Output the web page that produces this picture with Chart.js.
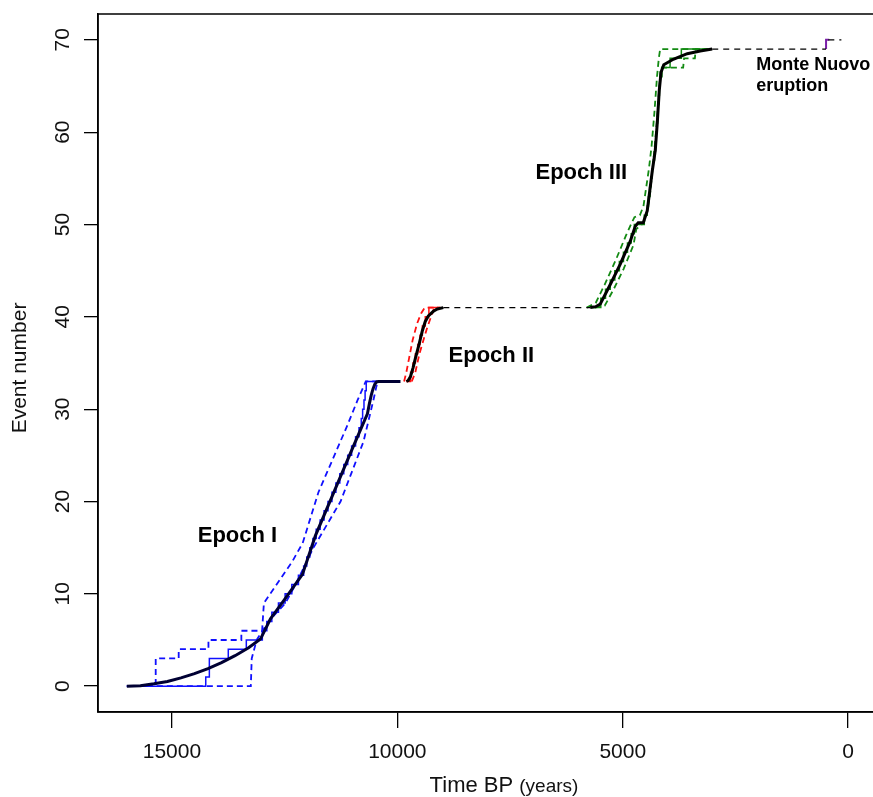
<!DOCTYPE html>
<html>
<head>
<meta charset="utf-8">
<script src="https://cdn.jsdelivr.net/npm/chart.js@4/dist/chart.umd.min.js"></script>
<style>
    html, body { margin: 0; padding: 0; overflow: hidden; background: #fff; }
    #wrap { position: absolute; left: 0; top: 0; width: 880px; height: 797px; }
</style>
</head>
<body>
<div id="wrap"><canvas id="chart" width="880" height="797"></canvas></div>
<script>
// tick labels
const xTicks = [15000, 10000, 5000, 0];
const yTicks = [0, 10, 20, 30, 40, 50, 60, 70];

// Epoch I - fitted curve, observed steps, bounds
const e1FitTime = [16000, 15700, 15400, 15100, 14800, 14500, 14200, 13900, 13600, 13300, 13036, 12814, 12500, 12105, 11817, 11400, 11000, 10664, 10620, 10580, 10540, 10500, 10460, 10420, 9930];
const e1FitCount = [0, 0.05, 0.25, 0.5, 0.9, 1.35, 1.9, 2.55, 3.3, 4.15, 5.1, 7.3, 9.4, 12.1, 16.3, 21.1, 25.7, 29.5, 30.6, 31.5, 32.2, 32.7, 32.95, 33, 33];
const e1ObsTime = [16000, 14250, 14170, 13750, 13350, 12995, 12895, 12784, 12637, 12489, 12341, 12194, 12078, 12009, 11941, 11872, 11800, 11712, 11625, 11538, 11450, 11363, 11276, 11188, 11101, 11014, 10926, 10850, 10800, 10770, 10740, 10715, 10690, 10400];
const e1ObsCount = [0, 1, 3, 4, 5, 6, 7, 8, 9, 10, 11, 12, 13, 14, 15, 16, 17, 18, 19, 20, 21, 22, 23, 24, 25, 26, 27, 28, 29, 30, 31, 32, 33, 33];
const e1UpTime = [16000, 15360, 15360, 14850, 14850, 14190, 14190, 13460, 13460, 13000, 12960, 12750, 12330, 12100, 11750, 11130, 10880, 10700, 10450];
const e1UpCount = [0, 0, 3, 3, 4, 4, 5, 5, 6, 6, 9, 10.5, 13.5, 15.5, 21, 28, 31, 33, 33];
const e1LoTime = [16000, 13250, 13230, 13120, 12860, 12480, 12260, 11860, 11260, 10750, 10530, 10440, 10400];
const e1LoCount = [0, 0, 3, 5, 7, 9, 11, 15, 20, 26.5, 31, 33, 33];

// Epoch II
const e2FitTime = [9800, 9760, 9711, 9650, 9600, 9520, 9445, 9380, 9312, 9200, 9112, 8980];
const e2FitCount = [33, 33.1, 33.5, 34.5, 35.5, 37, 38.5, 39.5, 40.1, 40.6, 40.85, 41];
const e2ObsTime = [9800, 9706, 9653, 9600, 9548, 9497, 9445, 9380, 9300, 9050];
const e2ObsCount = [33, 34, 35, 36, 37, 38, 39, 40, 41, 41];
const e2UpTime = [9850, 9800, 9740, 9660, 9560, 9470, 9390, 9330, 9100];
const e2UpCount = [33, 34, 35.5, 37.5, 39.3, 40.4, 41, 41, 41];
const e2LoTime = [9680, 9600, 9510, 9420, 9340, 9260, 9180, 9050];
const e2LoCount = [33, 34, 36, 37.5, 38.8, 39.9, 41, 41];

// Epoch III
const e3FitTime = [5720, 5600, 5498, 5277, 5055, 4833, 4722, 4656, 4545, 4456, 4345, 4279, 4234, 4190, 4150, 4090, 3880, 3569, 3281, 3015];
const e3FitCount = [41, 41.1, 41.4, 43.5, 45.7, 48.2, 49.8, 50.2, 50.2, 51.5, 55.8, 58, 61, 64.5, 66.5, 67.3, 67.9, 68.5, 68.8, 69];
const e3ObsTime = [5720, 5487, 5382, 5277, 5176, 5075, 4984, 4895, 4812, 4743, 4522, 4456, 4430, 4404, 4379, 4353, 4324, 4294, 4272, 4257, 4242, 4227, 4214, 4200, 4187, 4173, 4130, 3950, 3700, 3100];
const e3ObsCount = [41, 42, 43, 44, 45, 46, 47, 48, 49, 50, 51, 52, 53, 54, 55, 56, 57, 58, 59, 60, 61, 62, 63, 64, 65, 66, 67, 68, 69, 69];
const e3UpTime = [5800, 5600, 5400, 5150, 4930, 4800, 4740, 4620, 4540, 4420, 4360, 4300, 4240, 4200, 4170, 3120];
const e3UpCount = [41, 41.5, 43.5, 46.2, 48.8, 50.2, 50.8, 51, 52, 56, 58.5, 62, 66, 68, 69, 69];
const e3LoTime = [5620, 5400, 5200, 4980, 4760, 4700, 4580, 4500, 4400, 4330, 4280, 4230, 4180, 4160, 3660, 3640, 3400, 3380, 3120];
const e3LoCount = [41, 41.2, 43, 45.2, 47.8, 49.5, 50, 50.5, 53, 56.5, 59, 62, 65.5, 67, 67, 68, 68, 69, 69];

// quiet periods and Monte Nuovo
const gap1Time = [8980, 5720];
const gap1Count = [41, 41];
const gap2Time = [3015, 490];
const gap2Count = [69, 69];
const tailTime = [440, 150];
const tailCount = [70, 70];
const mnTime = [490, 490, 420];
const mnCount = [69, 70, 70];

function pts(t, c) {
    return t.map((v, i) => ({ x: v, y: c[i] }));
}

function fitLine(t, c, color) {
    return { data: pts(t, c), borderColor: color, borderWidth: 3, order: 0 };
}
function obsLine(t, c, color) {
    return { data: pts(t, c), borderColor: color, borderWidth: 1.5, stepped: 'before', order: 2 };
}
function boundLine(t, c, color) {
    return { data: pts(t, c), borderColor: color, borderWidth: 1.8, borderDash: [6, 4], order: 3 };
}
function gapLine(t, c) {
    return { data: pts(t, c), borderColor: '#000', borderWidth: 1.3, borderDash: [6, 5], order: 1 };
}

const BLUE = '#1010ff';
const RED = '#ff1010';
const GREEN = '#138a13';

const frame = {
    id: 'frame',
    afterDraw(chart) {
        const ctx = chart.ctx;
        const a = chart.chartArea;
        const xs = chart.scales.x, ys = chart.scales.y;
        ctx.save();
        ctx.strokeStyle = '#000';
        ctx.lineWidth = 1.5;
        ctx.strokeRect(a.left, a.top, a.right - a.left, a.bottom - a.top);

        // rotated y tick labels
        ctx.fillStyle = '#111';
        ctx.font = '21px "Liberation Sans", Arial, sans-serif';
        ctx.textAlign = 'center';
        ctx.textBaseline = 'middle';
        yTicks.forEach(v => {
            ctx.save();
            ctx.translate(63, ys.getPixelForValue(v));
            ctx.rotate(-Math.PI / 2);
            ctx.fillText(String(v), 0, 0);
            ctx.restore();
        });

        // y title
        ctx.save();
        ctx.translate(20, 368);
        ctx.rotate(-Math.PI / 2);
        ctx.font = '21px "Liberation Sans", Arial, sans-serif';
        ctx.fillText('Event number', 0, 0);
        ctx.restore();

        // x title
        ctx.textAlign = 'left';
        ctx.textBaseline = 'alphabetic';
        ctx.font = '22px "Liberation Sans", Arial, sans-serif';
        const t1 = 'Time BP ';
        const w1 = ctx.measureText(t1).width;
        ctx.font = '19px "Liberation Sans", Arial, sans-serif';
        const t2 = '(years)';
        const w2 = ctx.measureText(t2).width;
        const x0 = 504 - (w1 + w2) / 2;
        ctx.font = '22px "Liberation Sans", Arial, sans-serif';
        ctx.fillText(t1, x0, 792);
        ctx.font = '19px "Liberation Sans", Arial, sans-serif';
        ctx.fillText(t2, x0 + w1, 792);

        // annotations
        ctx.fillStyle = '#000';
        ctx.textAlign = 'center';
        ctx.textBaseline = 'middle';
        ctx.font = 'bold 22px "Liberation Sans", Arial, sans-serif';
        ctx.fillText('Epoch I', xs.getPixelForValue(13546), ys.getPixelForValue(16.25));
        ctx.fillText('Epoch II', xs.getPixelForValue(7915), ys.getPixelForValue(35.75));
        ctx.fillText('Epoch III', xs.getPixelForValue(5919), ys.getPixelForValue(55.6));
        ctx.textAlign = 'left';
        ctx.font = 'bold 18px "Liberation Sans", Arial, sans-serif';
        ctx.fillText('Monte Nuovo', xs.getPixelForValue(2040), ys.getPixelForValue(67.3));
        ctx.fillText('eruption', xs.getPixelForValue(2040), ys.getPixelForValue(65.0));
        ctx.restore();
    }
};

new Chart(document.getElementById('chart'), {
    type: 'line',
    data: {
        datasets: [
            fitLine(e1FitTime, e1FitCount, '#000033'),
            fitLine(e2FitTime, e2FitCount, '#000'),
            fitLine(e3FitTime, e3FitCount, '#000'),
            gapLine(gap1Time, gap1Count),
            gapLine(gap2Time, gap2Count),
            gapLine(tailTime, tailCount),
            { data: pts(mnTime, mnCount), borderColor: '#7a1fa8', borderWidth: 2, order: 1 },
            obsLine(e1ObsTime, e1ObsCount, BLUE),
            obsLine(e2ObsTime, e2ObsCount, RED),
            obsLine(e3ObsTime, e3ObsCount, GREEN),
            boundLine(e1UpTime, e1UpCount, BLUE),
            boundLine(e1LoTime, e1LoCount, BLUE),
            boundLine(e2UpTime, e2UpCount, RED),
            boundLine(e2LoTime, e2LoCount, RED),
            boundLine(e3UpTime, e3UpCount, GREEN),
            boundLine(e3LoTime, e3LoCount, GREEN)
        ]
    },
    options: {
        responsive: false,
        animation: false,
        devicePixelRatio: 1,
        layout: { padding: { top: 14, right: 3, left: 0, bottom: 0 } },
        elements: { point: { radius: 0 }, line: { tension: 0, fill: false } },
        plugins: { legend: { display: false }, tooltip: { enabled: false } },
        scales: {
            x: {
                type: 'linear',
                reverse: true,
                min: -640,
                max: 16640,
                afterFit: s => { s.height = 85; },
                afterBuildTicks: s => { s.ticks = xTicks.map(v => ({ value: v })); },
                grid: { drawOnChartArea: false, drawTicks: true, tickLength: 16, color: '#000', lineWidth: 1.3 },
                border: { display: true, color: '#000', width: 1.5 },
                ticks: {
                    padding: 12,
                    color: '#111',
                    font: { family: '"Liberation Sans", Arial, sans-serif', size: 21 },
                    callback: v => String(v)
                }
            },
            y: {
                type: 'linear',
                min: -2.8,
                max: 72.8,
                afterFit: s => { s.width = 98; },
                afterBuildTicks: s => { s.ticks = yTicks.map(v => ({ value: v })); },
                grid: { drawOnChartArea: false, drawTicks: true, tickLength: 14, color: '#000', lineWidth: 1.3 },
                border: { display: true, color: '#000', width: 1.5 },
                ticks: { display: false }
            }
        }
    },
    plugins: [frame]
});
</script>
</body>
</html>
